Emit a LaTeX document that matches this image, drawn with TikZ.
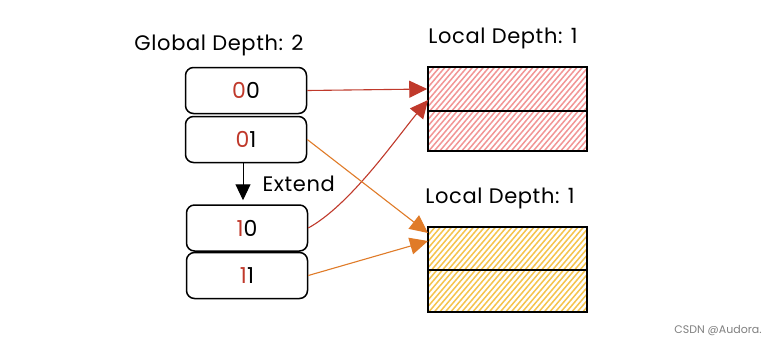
\documentclass[tikz,border=0pt]{standalone}
\usepackage{fontspec}
\setmainfont{Poppins}[LetterSpace=3]
\usetikzlibrary{arrows.meta}
\definecolor{xred}{HTML}{C0392B}
\definecolor{xorange}{HTML}{E07B28}
\definecolor{hred}{HTML}{F29696}
\definecolor{hyellow}{HTML}{F5C44E}
\begin{document}
\begin{tikzpicture}[x=1pt,y=-1pt,
  cell/.style={draw, line width=1.5pt, rounded corners=8pt, minimum width=121pt, minimum height=46pt, inner sep=0pt, font=\fontsize{22}{22}\selectfont},
  bucket/.style={draw, line width=1.5pt, minimum width=159pt, inner sep=0pt},
  lbl/.style={font=\fontsize{21}{21}\selectfont},
  tipred/.style={xred, line width=1.1pt, -{Triangle[length=18pt,width=17pt]}},
  tiporange/.style={xorange, line width=1.1pt, -{Triangle[length=18pt,width=17pt]}}]
\useasboundingbox (0,0) rectangle (778,346);
\fill[white] (0,0) rectangle (778,346);
% hatching
\begin{scope}
\clip (428,67) rectangle (587,151);
\foreach \x in {320,325.5,...,600} \draw[hred, line width=1.5pt] (\x,156) -- ++(80,-94);
\end{scope}
\begin{scope}
\clip (428,227) rectangle (587,312);
\foreach \x in {320,325.5,...,600} \draw[hyellow, line width=1.5pt] (\x,317) -- ++(80,-94);
\end{scope}
% buckets
\node[bucket, minimum height=44pt] (b1a) at (507.5,89) {};
\node[bucket, minimum height=40pt] (b1b) at (507.5,131) {};
\node[bucket, minimum height=43pt] (b2a) at (507.5,248.5) {};
\node[bucket, minimum height=42pt] (b2b) at (507.5,291) {};
% labels
\node[lbl] (gd) at (219,45) {Global Depth: 2};
\node[lbl] (ld1) at (503,38) {Local Depth: 1};
\node[lbl] (ld2) at (500,198) {Local Depth: 1};
% cells
\node[cell] (n00) at (246,90.5) {\textcolor{xred}{0}0};
\node[cell] (n01) at (246,139.5) {\textcolor{xred}{0}1};
\node[cell] (n10) at (247,228) {\textcolor{xred}{1}0};
\node[cell] (n11) at (247,275.5) {\textcolor{xred}{1}1};
% extend
\draw[line width=1pt, -{Triangle[length=16pt,width=15pt]}, shorten >=4pt] (n01.south -| 243,0) -- (n10.north -| 243,0);
\node[lbl, anchor=west] (ext) at (259,184) {Extend};
% connectors
\coordinate (t1) at (428,100);
\coordinate (t2) at (428,233);
\coordinate (t3) at (428,241);
\draw[tipred] (n00.east) -- (b1a.west);
\draw[tipred] (n10.east) .. controls (350,205) and (395,140) .. (t1);
\draw[tiporange] (n01.east) -- (t2);
\draw[tiporange] (n11.east) -- (t3);
% watermark
\node[gray, font=\fontsize{11}{11}\selectfont\addfontfeature{LetterSpace=0}] (wm) at (718,331) {CSDN @Audora.};
\end{tikzpicture}
\end{document}
